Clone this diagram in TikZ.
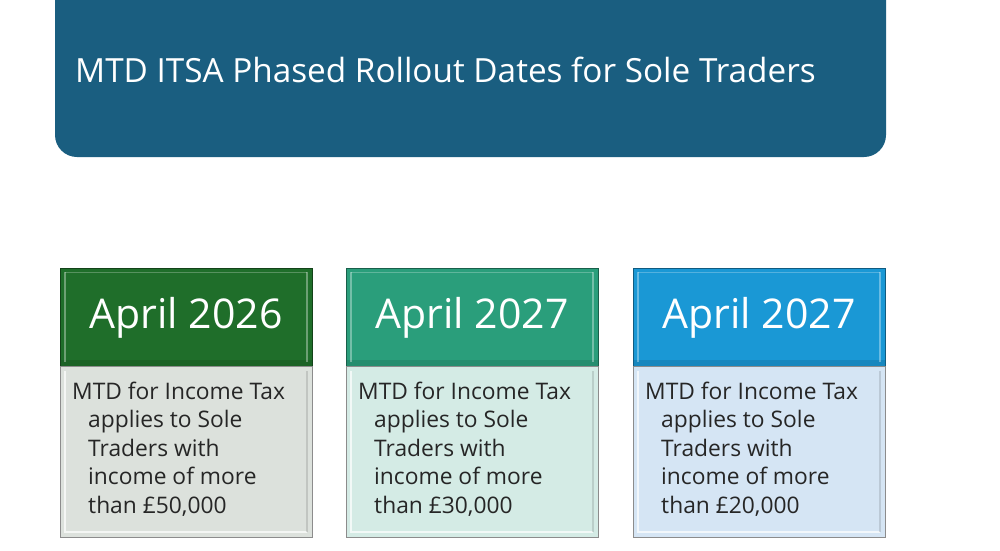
\documentclass[tikz,border=0pt]{standalone}
\usepackage{fontspec}
\setmainfont{Open Sans}
\definecolor{titlebg}{HTML}{1A5E80}
\definecolor{hdrA}{HTML}{1F6E2A}
\definecolor{hdrB}{HTML}{2A9E7B}
\definecolor{hdrC}{HTML}{1A98D5}
\definecolor{bodyA}{HTML}{DCE1DC}
\definecolor{bodyB}{HTML}{D4EBE5}
\definecolor{bodyC}{HTML}{D5E5F4}
\definecolor{edge}{HTML}{8C8C8C}
\tikzset{
  titlebox/.style={fill=titlebg, rounded corners=22pt},
  hdrtext/.style={text=white, font=\fontsize{41}{44}\selectfont, anchor=base, inner sep=0pt},
  bodytext/.style={text=black!85, font=\fontsize{22.8}{26}\selectfont, anchor=base west, inner sep=0pt},
  titletext/.style={text=white, font=\fontsize{33.3}{36}\selectfont, anchor=base west, inner sep=0pt},
}
\newcommand{\phasebox}[6]{%
  \fill[#2] (#1,268) rectangle (#1+252,366);
  \fill[#2!70!black, opacity=0.35] (#1,360) rectangle (#1+252,366);
  \draw[white, opacity=0.35, line width=2pt] (#1+5,272) -- (#1+5,362);
  \draw[white, opacity=0.35, line width=2pt] (#1+247,272) -- (#1+247,362);
  \draw[white, opacity=0.25, line width=1pt] (#1+5,272) -- (#1+247,272);
  \draw[#2!60!black, line width=0.8pt] (#1,268) rectangle (#1+252,366);
  \node[hdrtext] (#6h) at (#1+126,328) {April #4};
  \fill[#3] (#1,366) rectangle (#1+252,537);
  \draw[white, opacity=0.7, line width=1.5pt] (#1+5,371) -- (#1+5,532) -- (#1+247,532);
  \draw[black, opacity=0.12, line width=1.5pt] (#1+247,371) -- (#1+247,532);
  \draw[edge, line width=0.8pt] (#1,366) rectangle (#1+252,537);
  \node[bodytext] (#6l1) at (#1+12,399) {MTD for Income Tax};
  \node[bodytext] (#6l2) at (#1+28,427.5) {applies to Sole};
  \node[bodytext] (#6l3) at (#1+28,456) {Traders with};
  \node[bodytext] (#6l4) at (#1+28,484.5) {income of more};
  \node[bodytext] (#6l5) at (#1+28,513) {than £#5,000};
}
\begin{document}
\begin{tikzpicture}[x=1pt, y=-1pt]
\useasboundingbox (0,0) rectangle (1000,550);
\fill[white] (0,0) rectangle (1000,550);
\fill[titlebox] (55,-30) rectangle (886,157);
\node[titletext] (title) at (75,82) {MTD ITSA Phased Rollout Dates for Sole Traders};
\phasebox{60}{hdrA}{bodyA}{2026}{50}{a}
\phasebox{346}{hdrB}{bodyB}{2027}{30}{b}
\phasebox{633}{hdrC}{bodyC}{2027}{20}{c}
\end{tikzpicture}
\end{document}
